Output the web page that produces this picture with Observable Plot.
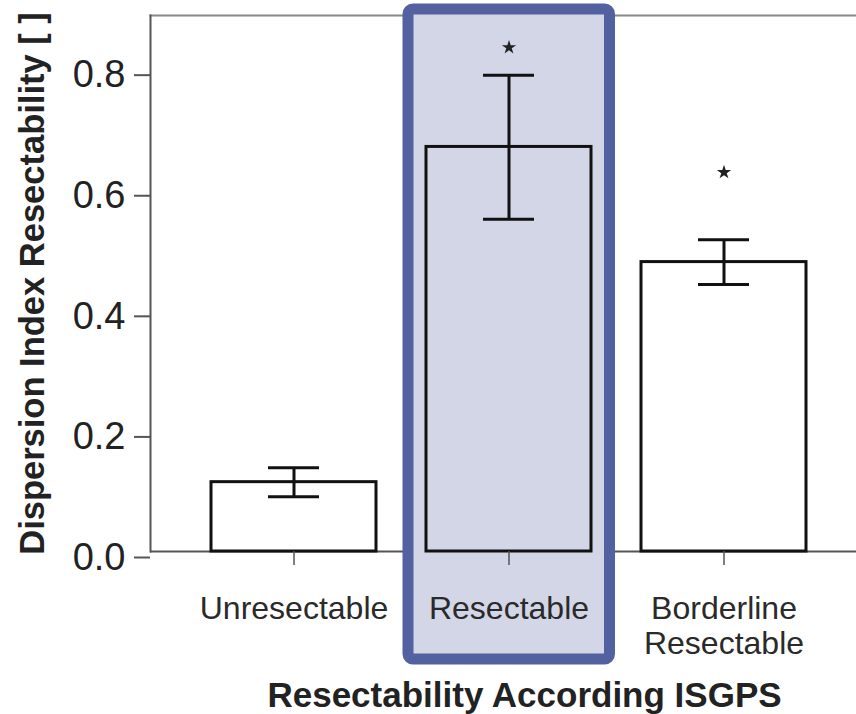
<!DOCTYPE html>
<html><head><meta charset="utf-8">
<script src="https://cdn.jsdelivr.net/npm/d3@7"></script>
<script src="https://cdn.jsdelivr.net/npm/@observablehq/plot@0.6"></script>
<style>body{margin:0;background:#fff}</style>
</head><body><div id="chart"></div>
<script>
const categories = ["Unresectable", "Resectable", "Borderline\nResectable"];
const means = [0.115, 0.671, 0.480];
const errLow = [0.091, 0.551, 0.443];
const errHigh = [0.139, 0.790, 0.517];
const sigY = [null, 0.836, 0.629];
const yTicks = [0, 0.2, 0.4, 0.6, 0.8];
const highlighted = ["Resectable"];
const xTitle = "Resectability According ISGPS";
const yTitle = "Dispersion Index Resectability [ ]";
const yMax = 0.889;

const rows = categories.map((c, i) => ({cat: c, mean: means[i], lo: errLow[i], hi: errHigh[i], sig: sigY[i]}));

const chart = Plot.plot({
  width: 856,
  height: 714,
  marginLeft: 150,
  marginRight: 0,
  marginTop: 15,
  marginBottom: 163,
  style: {fontFamily: "'Liberation Sans', Arial, sans-serif", background: "#fff"},
  x: {domain: categories, paddingInner: 0.2326, paddingOuter: 0.258, align: 0.55},
  y: {domain: [0, yMax]},
  marks: [
    Plot.ruleY([0], {stroke: "#555", strokeWidth: 2}),
    Plot.frame({anchor: "top", stroke: "#888", strokeWidth: 2}),
    Plot.frame({anchor: "left", stroke: "#555", strokeWidth: 2}),
    Plot.barY(highlighted, {x: d => d, y1: 0, y2: yMax, fill: "#d3d6e7", stroke: "#5461a0", strokeWidth: 11, rx: 5,
      insetLeft: -18, insetRight: -18.5, insetTop: -6, insetBottom: -108}),
    Plot.barY(rows, {x: "cat", y: "mean", fill: "none", stroke: "#111", strokeWidth: 3}),
    Plot.ruleX(rows, {x: "cat", y1: "lo", y2: "hi", stroke: "#111", strokeWidth: 3}),
    Plot.tickY(rows, {x: "cat", y: "lo", stroke: "#111", strokeWidth: 3, insetLeft: 57, insetRight: 57}),
    Plot.tickY(rows, {x: "cat", y: "hi", stroke: "#111", strokeWidth: 3, insetLeft: 57, insetRight: 57}),
    Plot.dot(rows.filter(d => d.sig != null), {x: "cat", y: "sig", symbol: "star", r: 4.5, fill: "#222", stroke: "none"}),
    Plot.axisY({ticks: yTicks, tickSize: 16, tickPadding: 9, fontSize: 38, tickFormat: d3.format(".1f"),
      stroke: "#555", strokeWidth: 2, fill: "#222", dy: 6, label: null}),
    Plot.axisX({tickSize: 14, tickPadding: 29, fontSize: 32, lineHeight: 1.08, stroke: "#555", strokeWidth: 1.5,
      fill: "#2a2a2a", label: null}),
    Plot.text([xTitle], {frameAnchor: "bottom", lineAnchor: "top", textAnchor: "middle", dy: 131, dx: 21,
      fontSize: 35, fontWeight: "bold", fill: "#222"}),
    Plot.text([yTitle], {frameAnchor: "left", lineAnchor: "middle", textAnchor: "middle", rotate: -90, dx: -118,
      fontSize: 34.5, fontWeight: "bold", fill: "#222"})
  ]
});
document.getElementById("chart").appendChild(chart);
</script>
</body></html>
